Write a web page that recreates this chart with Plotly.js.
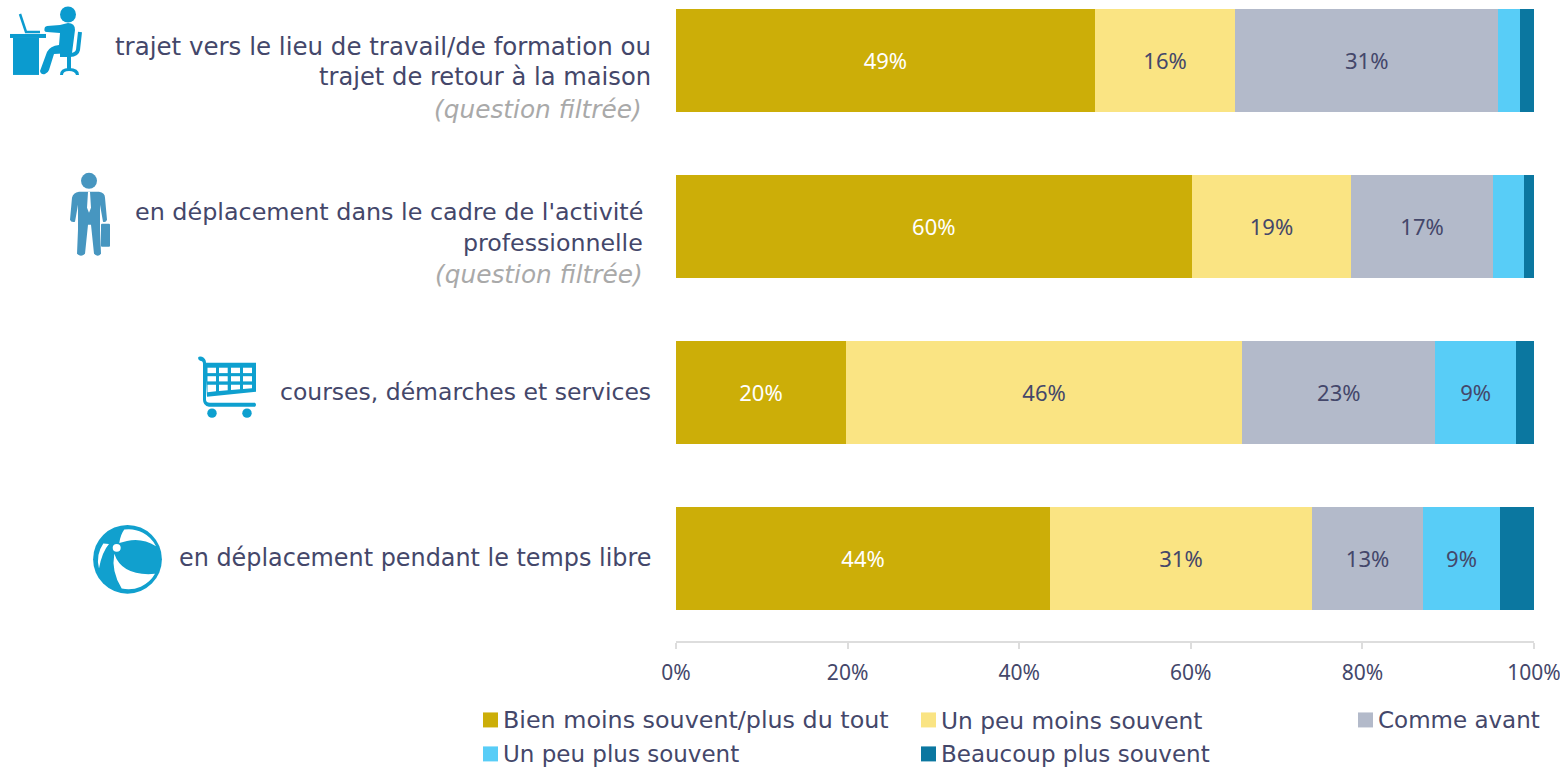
<!DOCTYPE html>
<html><head><meta charset="utf-8">
<script src="https://cdn.plot.ly/plotly-3.0.1.min.js"></script>
<style>html,body{margin:0;padding:0;background:#fff}#c{width:1560px;height:768px}</style></head>
<body><div id="c"></div>
<script>
const categories=["travail","activite","courses","loisirs"];
const seriesNames=["Bien moins souvent/plus du tout","Un peu moins souvent","Comme avant","Un peu plus souvent","Beaucoup plus souvent"];
const bienMoins=[48.8,60.1,19.8,43.6];
const peuMoins=[16.4,18.6,46.2,30.5];
const commeAvant=[30.6,16.5,22.5,13.0];
const peuPlus=[2.6,3.6,9.4,8.9];
const beaucoupPlus=[1.6,1.2,2.1,4.0];
const labelsBienMoins=["49%","60%","20%","44%"];
const labelsPeuMoins=["16%","19%","46%","31%"];
const labelsCommeAvant=["31%","17%","23%","13%"];
const labelsPeuPlus=["","","9%","9%"];
const labelsBeaucoupPlus=["","","",""];
const colors=["#CCAE08","#FAE483","#B3BACA","#58CDF7","#0B77A0"];
const textColors=["#ffffff","#44476A","#44476A","#44476A","#44476A"];
const tickVals=[0,20,40,60,80,100];
const tickText=["0%","20%","40%","60%","80%","100%"];
const FONT='"Noto Sans", sans-serif';
const WIDE='"DejaVu Sans", sans-serif';
const INK="#44476A";

const L=676,R=1534,B=641.5,T=0;
const px=x=>(x-L)/(R-L), py=y=>(B-y)/(B-T);

const rowLines=[
 {t:"trajet vers le lieu de travail/de formation ou",r:652,y:46.6,s:24.5},
 {t:"trajet de retour à la maison",r:652,y:76.6,s:24.2},
 {t:"(question filtrée)",r:643,y:109.6,f:1,s:24.8},
 {t:"en déplacement dans le cadre de l'activité",r:644,y:212,s:23.85},
 {t:"professionnelle",r:644,y:243,s:23.7},
 {t:"(question filtrée)",r:644,y:275,f:1,s:24.8},
 {t:"courses, démarches et services",r:652,y:392,s:23.5},
 {t:"en déplacement pendant le temps libre",r:652,y:558.5,s:23.9}
];
const legendPos=[[483,721,23.8],[921,721,23.3],[1358,721,23],[483,755,23],[921,755,23]];

const values=[bienMoins,peuMoins,commeAvant,peuPlus,beaucoupPlus];
const labels=[labelsBienMoins,labelsPeuMoins,labelsCommeAvant,labelsPeuPlus,labelsBeaucoupPlus];
const traces=seriesNames.map((n,i)=>({type:"bar",orientation:"h",name:n,y:categories,x:values[i],
  text:labels[i],textposition:"inside",insidetextanchor:"middle",textangle:0,constraintext:"none",
  textfont:{family:FONT,size:22,color:textColors[i]},marker:{color:colors[i],line:{width:0}},width:0.621,
  hoverinfo:"name+x",showlegend:false}));

const annotations=rowLines.map(l=>({xref:"paper",yref:"paper",x:px(l.r),y:py(l.y),xanchor:"right",yanchor:"middle",
  showarrow:false,borderpad:0,align:"right",
  text:l.f?"<i>"+l.t+"</i>":l.t,font:{family:WIDE,size:l.s,color:l.f?"#A9A9A9":INK}}));
const shapes=[];
seriesNames.forEach((n,i)=>{
  const [x,y,s]=legendPos[i];
  shapes.push({type:"rect",xref:"paper",yref:"paper",x0:px(x),x1:px(x+15),y0:py(y+7),y1:py(y-8),fillcolor:colors[i],line:{width:0}});
  annotations.push({xref:"paper",yref:"paper",x:px(x+19),y:py(y),xanchor:"left",yanchor:"middle",showarrow:false,borderpad:0,
    text:n,font:{family:WIDE,size:s,color:INK}});
});

const icons=`<svg xmlns="http://www.w3.org/2000/svg" width="300" height="600" viewBox="0 0 300 600">
<g fill="#0B9BCF" stroke="none">
<circle cx="68" cy="14.5" r="8"/>
<rect x="10" y="34" width="36" height="4"/><rect x="13" y="38" width="26" height="37"/>
<path d="M20 14L26 32H40" fill="none" stroke="#0B9BCF" stroke-width="2.5"/>
<path d="M45 27Q43 32 47 32L60 33L59 45Q50 46 47 52L40 71Q41 75 45 74Q48 73 49 70L54 54L72 53L75 30Q75 23 68 23L60 25L47 26Z"/>
<path d="M80 32L78 50Q77 55 70 55H60" fill="none" stroke="#0B9BCF" stroke-width="4"/>
<rect x="67" y="55" width="4" height="14"/>
<path d="M60 75Q60 68 69 68Q79 68 79 75H76Q75 71 69 71Q63 71 63 75Z"/>
</g>
<g fill="#4796C0">
<circle cx="89" cy="181" r="8"/>
<path d="M79 192H99Q105 193 105 198L107 220Q106 223 103 222L100 205V230L101 254Q98 258 94 254L91 225H88L85 254Q81 258 77 254L78 230V205L75 222Q71 223 70 220L72 198Q73 193 79 192Z"/>
<rect x="101" y="224" width="9" height="23" rx="1"/>
<path d="M88 192H90L91 208L89 213L87 208Z" fill="#fff"/>
</g>
<g fill="#0EA0CF">
<path d="M198 358Q199 356 202 357Q206 359 206 363V400Q206 403 210 403H255Q257 405 255 407H209Q203 406 203 400V364Q203 361 200 361Q198 360 198 358Z"/>
<path d="M205 363H256V392L207 397Z"/>
<circle cx="212" cy="413.5" r="4.7"/><circle cx="247" cy="413.5" r="4.7"/>
<g fill="#fff">
<rect x="207.5" y="368" width="8.5" height="5.4"/><rect x="219" y="368" width="8.7" height="5.4"/><rect x="231" y="368" width="9" height="5.4"/><rect x="243" y="368" width="9" height="5.4"/>
<rect x="207.5" y="376.5" width="8.5" height="5.2"/><rect x="219" y="376.5" width="8.7" height="5.2"/><rect x="231" y="376.5" width="9" height="5.2"/><rect x="243" y="376.5" width="9" height="5.2"/>
<path d="M207.5 385H216V391.6L207.5 392.5Z"/><path d="M219 385H227.7V390.5L219 391.3Z"/><path d="M231 385H240V389.5L231 390.2Z"/><path d="M243 385H252V388.5L243 389.2Z"/>
</g></g>
<g>
<circle cx="127.5" cy="559.7" r="34.4" fill="#11A0CE"/>
<g fill="#fff">
<path d="M119.3 543.3Q120.5 535 124.3 530A30.5 30.5 0 0 1 156 546.7Q142 538 127 541.5Z"/>
<path d="M109 544.3Q102 552 99 569A30.5 30.5 0 0 1 103.3 544Z"/>
<path d="M114.3 554.3Q111 572 121.7 589A30.5 30.5 0 0 0 155 574.3Q122 577 114.3 554.3Z"/>
<circle cx="116.7" cy="548.3" r="4"/>
</g></g></svg>`;

const layout={width:1560,height:768,barmode:"stack",paper_bgcolor:"#fff",plot_bgcolor:"#fff",
  margin:{l:L,r:1560-R,t:T,b:768-B,pad:0},showlegend:false,
  font:{family:FONT,color:INK},
  xaxis:{range:[0,100],tickmode:"array",tickvals:tickVals,ticktext:tickText,showgrid:false,zeroline:false,
    showline:true,linecolor:"#DDDDDD",linewidth:2,ticks:"outside",ticklen:6,tickwidth:2,tickcolor:"#DDDDDD",
    ticklabeloverflow:"allow",ticklabelstandoff:6,tickfont:{family:FONT,size:21,color:INK},fixedrange:true},
  yaxis:{type:"category",categoryorder:"array",categoryarray:categories,range:[3.5,-0.3645],showticklabels:false,
    showgrid:false,zeroline:false,showline:false,ticks:"",fixedrange:true},
  annotations,shapes,
  images:[{source:"data:image/svg+xml;utf8,"+encodeURIComponent(icons),xref:"paper",yref:"paper",x:px(0),y:py(0),
    sizex:300/(R-L),sizey:600/(B-T),xanchor:"left",yanchor:"top",sizing:"stretch",layer:"above"}]
};
Plotly.newPlot("c",traces,layout,{displayModeBar:false,responsive:false});
</script></body></html>
